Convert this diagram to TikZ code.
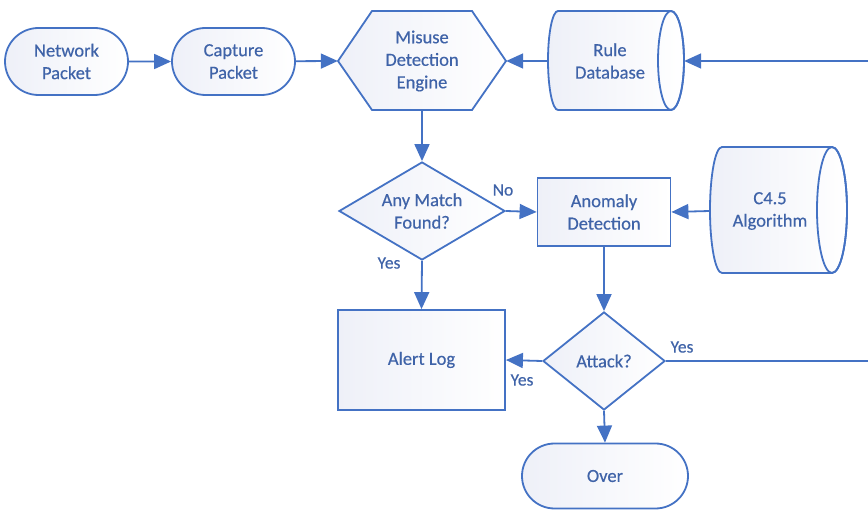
\documentclass[tikz,border=0pt]{standalone}
\usepackage{fontspec}
\setmainfont{Carlito}[RawFeature={embolden=0.4}]
\usetikzlibrary{shapes.geometric,shapes.misc,arrows.meta}
\definecolor{ln}{HTML}{4472C4}
\definecolor{tx}{HTML}{3F63A8}
\definecolor{sh}{HTML}{EEF0F8}
\begin{document}
\begin{tikzpicture}[x=1pt,y=-1pt,
  every node/.style={font=\fontsize{18.5}{22.5}\selectfont, text=tx, align=center, inner sep=0pt},
  lw/.style={draw=ln, line width=1.8pt},
  fillshade/.style={left color=sh, right color=white},
  term/.style={lw, fillshade, rounded rectangle, minimum width=123pt, minimum height=67pt},
  box/.style={lw, fillshade, rectangle},
  dec/.style={lw, fillshade, diamond},
  ghost/.style={rectangle},
  arr/.style={draw=ln, line width=1.8pt, -{Triangle[length=17pt,width=15pt]}},
  lbl/.style={font=\fontsize{17.5}{20}\selectfont}
]
\useasboundingbox (0,0) rectangle (868,510);
\clip (0,0) rectangle (868,510);

% terminals
\node[term] (net) at (66.5,61.5) {Network\\Packet};
\node[term] (cap) at (233.5,61.5) {Capture\\Packet};

% hexagon
\path[lw, fillshade] (338,61) -- (372,11) -- (472,11) -- (506,61) -- (472,110) -- (372,110) -- cycle;
\node[ghost, minimum width=168pt, minimum height=99pt] (mis) at (422,61) {Misuse\\Detection\\Engine};

% rule database
\path[lw, fillshade] (558,11) -- (671,11) arc[start angle=90,end angle=-90,x radius=13pt,y radius=49.5pt]
  -- (558,110) arc[start angle=270,end angle=90,x radius=10pt,y radius=49.5pt] -- cycle;
\draw[lw] (671,60.5) ellipse [x radius=13pt, y radius=49.5pt];
\node[ghost, minimum width=136pt, minimum height=99pt] (rule) at (616,61) {};
\node (ruletxt) at (610,61) {Rule\\Database};

% C4.5 algorithm
\path[lw, fillshade] (722,147) -- (832,147) arc[start angle=90,end angle=-90,x radius=15pt,y radius=63pt]
  -- (722,273) arc[start angle=270,end angle=90,x radius=12pt,y radius=63pt] -- cycle;
\draw[lw] (832,210) ellipse [x radius=15pt, y radius=63pt];
\node[ghost, minimum width=137pt, minimum height=126pt] (c45) at (778.5,211) {};
\node (c45txt) at (770,211) {C4.5\\Algorithm};

% process boxes and decisions
\node[box, minimum width=133pt, minimum height=68pt] (ano) at (604,212) {Anomaly\\Detection};
\node[dec, minimum width=166pt, minimum height=98pt, aspect=1.7] (match) at (422,211) {Any Match\\Found?};
\node[dec, minimum width=122pt, minimum height=98pt, aspect=1.25] (att) at (604,361) {Attack?};
\node[box, minimum width=167pt, minimum height=100pt] (alert) at (421.5,360) {Alert Log};
\node[term, minimum width=166pt, minimum height=65pt] (over) at (605,476) {Over};

% connectors
\coordinate (rc) at (885,61);
\draw[arr] (net) -- (cap);
\draw[arr] (cap) -- (mis.west);
\draw[arr] (rule.west) -- (mis.east);
\draw[arr] (mis.south) -- (match.north);
\draw[arr] (match.east) -- (ano.west);
\draw[arr] (c45.west) -- (ano.east);
\draw[arr] (match.south) -- (alert.north);
\draw[arr] (ano.south) -- (att.north);
\draw[arr] (att.west) -- (alert.east);
\draw[arr] (att.south) -- (over.north);
\draw[arr] (att.east) -| (rc) -- (rule.east);

% labels
\node[lbl] (no) at (503,190) {No};
\node[lbl] (y1) at (389,263) {Yes};
\node[lbl] (y2) at (522,380) {Yes};
\node[lbl] (y3) at (682,347) {Yes};
\end{tikzpicture}
\end{document}
